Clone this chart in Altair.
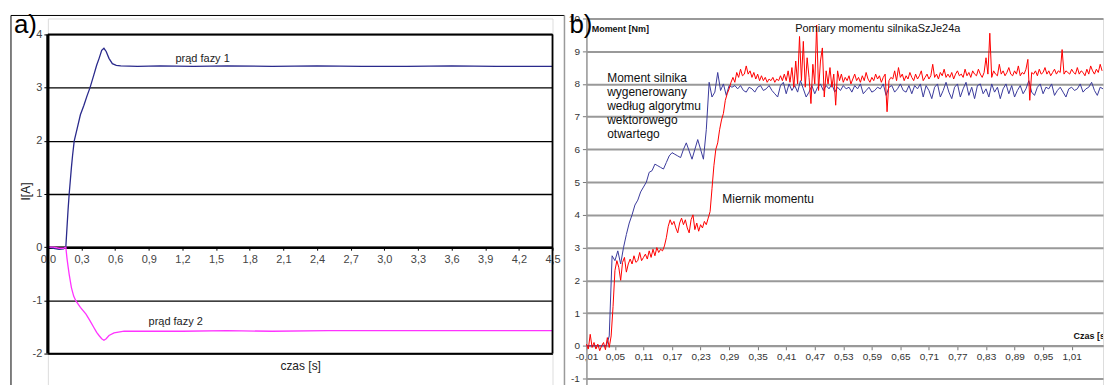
import altair as alt
import pandas as pd

FONT = "Liberation Sans"

# ---------------- panel a) : phase currents ----------------
a_t1 = [0.00, 0.05, 0.10, 0.14, 0.16, 0.17, 0.18, 0.19, 0.20, 0.21, 0.22, 0.235, 0.26, 0.29,
        0.32, 0.35, 0.376, 0.41, 0.435, 0.457, 0.48, 0.50, 0.52, 0.545, 0.575, 0.61, 0.65,
        0.80, 1.0, 1.3, 1.6, 2.0, 2.4, 2.8, 3.2, 3.6, 4.0, 4.5]
a_i1 = [0.00, -0.02, -0.04, -0.03, 0.00, 0.35, 0.70, 1.00, 1.25, 1.50, 1.72, 2.00, 2.22, 2.49,
        2.66, 2.85, 3.00, 3.24, 3.42, 3.55, 3.70, 3.74, 3.68, 3.55, 3.45, 3.42, 3.41,
        3.40, 3.41, 3.40, 3.41, 3.40, 3.41, 3.40, 3.40, 3.41, 3.40, 3.40]
a_t2 = [0.00, 0.05, 0.10, 0.14, 0.16, 0.17, 0.18, 0.19, 0.21, 0.23, 0.25, 0.29, 0.34, 0.375,
        0.41, 0.435, 0.456, 0.48, 0.50, 0.52, 0.545, 0.59, 0.68, 0.9, 1.2, 1.6, 2.0, 2.5,
        3.0, 3.5, 4.0, 4.5]
a_i2 = [0.00, 0.00, -0.02, -0.02, 0.00, -0.20, -0.36, -0.51, -0.76, -0.92, -1.01, -1.13, -1.26, -1.38,
        -1.51, -1.60, -1.66, -1.72, -1.75, -1.72, -1.66, -1.61, -1.58, -1.58, -1.58, -1.57, -1.58, -1.57,
        -1.57, -1.57, -1.57, -1.57]
a_xticks = [0.0, 0.3, 0.6, 0.9, 1.2, 1.5, 1.8, 2.1, 2.4, 2.7, 3.0, 3.3, 3.6, 3.9, 4.2, 4.5]
a_yticks = [-2, -1, 0, 1, 2, 3, 4]
a_labels = ["prąd fazy 1", "prąd fazy 2"]
a_label_t = [1.138, 0.898]
a_label_v = [3.49, -1.457]

# ---------------- panel b) : torque ----------------
b_blue_t0, b_blue_dt = -0.01, 0.006
b_blue = [
    0.0, 0.0, 0.0, 0.0, 0.0, 0.0, 0.0, 0.0, 0.3, 2.75,
    2.6, 2.9, 2.5, 3.0, 3.4, 3.75, 4.0, 4.3, 4.45, 4.7,
    4.85, 5.0, 5.3, 5.35, 5.55, 5.5, 5.45, 5.4, 5.6, 5.8,
    5.9, 5.85, 5.8, 5.75, 6.0, 6.2, 5.95, 5.7, 6.0, 6.3,
    6.0, 5.7, 6.6, 8.05, 7.6, 7.75, 8.35, 7.8, 8.0, 7.65,
    7.95, 7.9, 7.95, 7.85, 7.95, 7.8, 7.75, 7.9, 7.85, 7.75,
    7.9, 7.95, 7.8, 7.85, 7.95, 7.8, 7.7, 7.6, 7.95, 8.05,
    7.7, 8.0, 7.8, 7.95, 7.75, 8.1, 7.85, 7.6, 7.75, 7.95,
    7.7, 7.9, 8.0, 7.8, 7.95, 7.85, 8.0, 7.75, 7.9, 7.8,
    7.95, 7.85, 7.9, 7.75, 7.95, 7.85, 8.0, 7.7, 7.8, 7.9,
    7.75, 7.8, 7.9, 7.85, 8.0, 7.65, 7.9, 7.95, 7.75, 7.85,
    8.0, 7.8, 7.75, 7.95, 7.7, 7.95, 7.85, 8.0, 7.6, 7.95,
    7.8, 7.55, 7.9, 8.0, 7.6, 7.8, 8.05, 7.75, 7.55, 7.9,
    8.0, 7.6, 7.85, 8.05, 7.65, 7.9, 7.55, 7.95, 8.0, 7.7,
    7.85, 7.6, 8.0, 7.75, 7.9, 7.55, 7.85, 8.0, 7.7, 7.95,
    7.6, 7.8, 7.95, 7.7, 7.85, 8.1, 7.75, 7.65, 7.9, 8.0,
    7.7, 7.9, 7.85, 8.0, 7.65, 7.8, 7.9, 7.75, 7.6, 7.85,
    7.9, 7.8, 7.85, 8.0, 7.75, 7.85, 7.9, 8.05, 7.8, 7.65,
    7.9, 7.85,
]
b_red_t0, b_red_dt = -0.01, 0.004
b_red = [
    0.05, -0.1, 0.35, -0.05, 0.1, -0.1, 0.05, -0.15, 0.0, 0.1,
    -0.12, 0.25, -0.05, 0.3, 1.2, 2.3, 2.6, 2.4, 2.0, 2.55,
    2.7, 2.25, 2.5, 2.65, 2.5, 2.75, 2.55, 2.6, 2.85, 2.6,
    2.7, 2.8, 2.65, 2.9, 2.7, 2.95, 2.75, 3.0, 2.85, 2.95,
    2.9, 3.05, 3.3, 3.65, 3.85, 3.7, 3.8, 3.6, 3.45, 3.75,
    3.9, 3.7, 3.85, 3.6, 3.45, 3.85, 4.0, 3.55, 3.75, 3.5,
    3.7, 3.6, 3.8, 3.7, 3.9, 4.1, 4.8, 5.5, 6.0, 6.2,
    6.6, 6.9, 7.1, 7.5, 7.7, 7.85, 8.05, 8.2, 8.05, 8.35,
    8.2, 8.45, 8.25, 8.3, 8.55, 8.3, 8.4, 8.2, 8.35, 8.15,
    8.3, 8.1, 8.25, 8.1, 8.2, 8.05, 8.15, 8.1, 8.2, 8.05,
    8.15, 8.1, 8.25, 8.1, 8.3, 8.1, 8.4, 8.05, 8.5, 7.9,
    8.7, 8.0, 9.45, 8.1, 9.3, 7.9, 8.8, 8.2, 7.4, 8.6,
    8.0, 9.8, 7.8, 8.7, 9.1, 7.6, 8.4, 8.0, 8.5, 7.9,
    8.3, 7.35, 8.4, 8.1, 8.3, 8.05, 8.2, 8.1, 8.25, 8.0,
    8.15, 8.3, 8.1, 8.2, 8.05, 8.25, 8.1, 8.35, 8.15, 8.05,
    8.2, 8.1, 8.3, 8.15, 8.25, 8.05, 8.2, 8.3, 7.15, 8.1,
    8.2, 8.15, 8.4, 8.1, 8.5, 8.2, 8.3, 8.1, 8.25, 8.15,
    8.35, 8.2, 8.1, 8.3, 8.15, 8.25, 8.4, 8.1, 8.2, 8.3,
    8.15, 8.25, 8.6, 8.2, 8.3, 8.15, 8.35, 8.25, 8.45, 8.2,
    8.3, 8.2, 8.35, 8.15, 8.3, 8.4, 8.25, 8.3, 8.2, 8.45,
    8.25, 8.35, 8.2, 8.4, 8.3, 8.25, 8.45, 8.3, 8.2, 8.35,
    8.8, 8.3, 9.55, 8.2, 8.4, 8.3, 8.25, 8.6, 8.3, 8.4,
    8.25, 8.35, 8.5, 8.3, 8.25, 8.4, 8.3, 8.55, 8.25, 8.35,
    8.3, 8.45, 8.75, 7.5, 8.35, 8.3, 8.4, 8.25, 8.45, 8.3,
    8.35, 8.5, 8.3, 8.4, 8.25, 8.35, 8.45, 8.3, 8.4, 8.35,
    9.05, 8.3, 8.4, 8.35, 8.3, 8.45, 8.35, 8.3, 8.5, 8.3,
    8.4, 8.35, 8.25, 8.45, 8.3, 8.55, 8.4, 8.3, 8.45, 8.35,
    8.6, 8.4,
]
b_xticks = [-0.01, 0.05, 0.11, 0.17, 0.23, 0.29, 0.35, 0.41, 0.47, 0.53,
            0.59, 0.65, 0.71, 0.77, 0.83, 0.89, 0.95, 1.01]
b_yticks = [-1, 0, 1, 2, 3, 4, 5, 6, 7, 8, 9, 10]

# ---------------- layout constants ----------------
L_W, L_H = 506, 368
R_W, R_H = 518, 368
a_xdom = [0, 4.5]
a_ydom = [-2.6, 4.3]
b_pxs = 477.0
b_xdom = [-0.01, -0.01 + R_W / b_pxs]
b_ydom = [-1.213, 10]
a_off = (a_ydom[1] / (a_ydom[1] - a_ydom[0])) * L_H - L_H
b_off = (b_ydom[1] / (b_ydom[1] - b_ydom[0])) * R_H - R_H

df_a1 = pd.DataFrame({"t": a_t1, "v": a_i1})
df_a2 = pd.DataFrame({"t": a_t2, "v": a_i2})
df_alab = pd.DataFrame({"t": a_label_t, "v": a_label_v, "label": a_labels})
df_blue = pd.DataFrame({"t": [round(b_blue_t0 + b_blue_dt * i, 4) for i in range(len(b_blue))], "v": b_blue})
df_red = pd.DataFrame({"t": [round(b_red_t0 + b_red_dt * i, 4) for i in range(len(b_red))], "v": b_red})
one = pd.DataFrame({"k": [0]})

MINUS_FIX = "replace({}, '\u2212', '-')"

# ---------------- panel a ----------------
xa_scale = alt.Scale(domain=a_xdom, nice=False, zero=False)
ya_scale = alt.Scale(domain=a_ydom, nice=False, zero=False)
xa_axis = alt.Axis(
    values=a_xticks, labelExpr="replace(format(datum.value, '.1f'), '.', ',')",
    offset=a_off, domainColor="black", domainWidth=2.5, tickColor="black", tickSize=3,
    labelPadding=3, labelFontSize=11, labelColor="#444", labelFont=FONT, labelFlush=False,
    labelOverlap=False, grid=False, title="czas [s]", titleFont=FONT, titleFontSize=12,
    titleFontWeight="normal", titleColor="#222", titlePadding=97)
ya_axis = alt.Axis(
    values=a_yticks, grid=True, gridColor="black", gridWidth=1.3, domain=False,
    labelExpr="'' + datum.value",
    tickSize=4, tickColor="black", labelPadding=2, labelFontSize=11, labelColor="#444",
    labelFont=FONT, labelFlush=False, title="I[A]", titleFont=FONT, titleFontSize=12,
    titleFontWeight="normal", titleColor="#222", titleAngle=-90, titleX=-15, titleY=173,
    titleAlign="center", titleBaseline="bottom")
xa = alt.X("t:Q", scale=xa_scale, axis=xa_axis)
ya = alt.Y("v:Q", scale=ya_scale, axis=ya_axis)

line1 = alt.Chart(df_a1).mark_line(color="#2a2a8c", strokeWidth=1.3).encode(x=xa, y=ya)
line2 = alt.Chart(df_a2).mark_line(color="#ff33ff", strokeWidth=1.3).encode(x=xa, y=ya)
labs_a = alt.Chart(df_alab).mark_text(align="left", baseline="alphabetic", font=FONT,
                                      fontSize=11, color="#222").encode(x=xa, y=ya, text="label:N")

def rule_h(v, w, color="black"):
    return alt.Chart(one).mark_rule(color=color, strokeWidth=w).encode(
        x=alt.X(datum=a_xdom[0], scale=xa_scale, axis=xa_axis),
        x2=alt.X2(datum=a_xdom[1]),
        y=alt.Y(datum=v, scale=ya_scale, axis=ya_axis))

def rule_v(t, w, color="black"):
    return alt.Chart(one).mark_rule(color=color, strokeWidth=w).encode(
        x=alt.X(datum=t, scale=xa_scale, axis=xa_axis),
        y=alt.Y(datum=-2, scale=ya_scale, axis=ya_axis),
        y2=alt.Y2(datum=4))

border = [rule_h(4, 1.8), rule_h(-2, 1.8), rule_v(4.5, 1.8), rule_v(0, 3.2)]

frame_l = alt.Chart(one).mark_rule(color="black", strokeWidth=1).encode(
    x=alt.value(-37), y=alt.value(-3), y2=alt.value(L_H))
frame_t = alt.Chart(one).mark_rule(color="black", strokeWidth=1).encode(
    x=alt.value(-37), x2=alt.value(518), y=alt.value(-3))
frame_r = alt.Chart(one).mark_rule(color="#9a9a9a", strokeWidth=1.5).encode(
    x=alt.value(518), y=alt.value(-3), y2=alt.value(L_H))
tag_a = alt.Chart(one).mark_text(text="a)", align="left", baseline="alphabetic", font=FONT,
                                 fontSize=26, color="black").encode(
    x=alt.value(-34), y=alt.value(15))

left = alt.layer(line1, line2, *border, labs_a, frame_l, frame_t, frame_r, tag_a).properties(
    width=L_W, height=L_H)

# ---------------- panel b ----------------
xb_scale = alt.Scale(domain=b_xdom, nice=False, zero=False)
yb_scale = alt.Scale(domain=b_ydom, nice=False, zero=False)
xb_axis = alt.Axis(
    values=b_xticks,
    labelExpr="replace(replace(format(datum.value, '.2f'), '.', ','), '\u2212', '-')",
    offset=b_off, domainColor="#999", domainWidth=2, tickColor="#777", tickSize=4,
    labelPadding=2, labelFontSize=10, labelColor="#333", labelFont=FONT, labelFlush=False,
    labelOverlap=False, grid=False, title=None)
yb_axis = alt.Axis(
    values=b_yticks, grid=True, gridColor="#999", gridWidth=2, domainColor="#999",
    labelExpr="'' + datum.value",
    domainWidth=1.5, tickColor="#777", tickSize=4, labelPadding=3, labelFontSize=10,
    labelColor="#333", labelFont=FONT, labelFlush=False, title=None)
xb = alt.X("t:Q", scale=xb_scale, axis=xb_axis)
yb = alt.Y("v:Q", scale=yb_scale, axis=yb_axis)

blue = alt.Chart(df_blue).mark_line(color="#3a3a9c", strokeWidth=1).encode(x=xb, y=yb)
red = alt.Chart(df_red).mark_line(color="#ff0000", strokeWidth=1).encode(x=xb, y=yb)

b_text_specs = [
    ("Moment [Nm]", 0.0011, 9.60, 9, "bold"),
    ("Pomiary momentu silnikaSzJe24a", 0.4288, 9.60, 11, "normal"),
    ("Miernik momentu", 0.2757, 4.36, 12, "normal"),
    ("Czas [s]", 1.014, 0.22, 9, "bold"),
]
b_txt = []
for lab, t, v, fs, fw in b_text_specs:
    b_txt.append(alt.Chart(pd.DataFrame({"t": [t], "v": [v], "label": [lab]})).mark_text(
        align="left", baseline="alphabetic", font=FONT, fontSize=fs, fontWeight=fw,
        color="#111", clip=True).encode(x=xb, y=yb, text="label:N"))

b_note = alt.Chart(pd.DataFrame({"t": [0.0337], "v": [8.32],
                                 "label": ["Moment silnika\nwygenerowany\nwedług algorytmu\nwektorowego\notwartego"]})
                   ).mark_text(align="left", baseline="top", font=FONT, fontSize=12, lineHeight=14,
                               lineBreak="\n", color="#111").encode(x=xb, y=yb, text="label:N")

tag_b = alt.Chart(one).mark_text(text="b)", align="left", baseline="alphabetic", font=FONT,
                                 fontSize=26, color="black").encode(
    x=alt.value(-17), y=alt.value(15))

right = alt.layer(blue, red, *b_txt, b_note, tag_b).properties(width=R_W, height=R_H)

chart = alt.hconcat(left, right, spacing=34, bounds="flush").properties(
    padding={"left": 10, "top": 11, "right": 0, "bottom": 0}
).configure_view(stroke=None).configure(font=FONT, background="white")

chart.save("out.html", embed_options={"renderer": "svg", "actions": False})
